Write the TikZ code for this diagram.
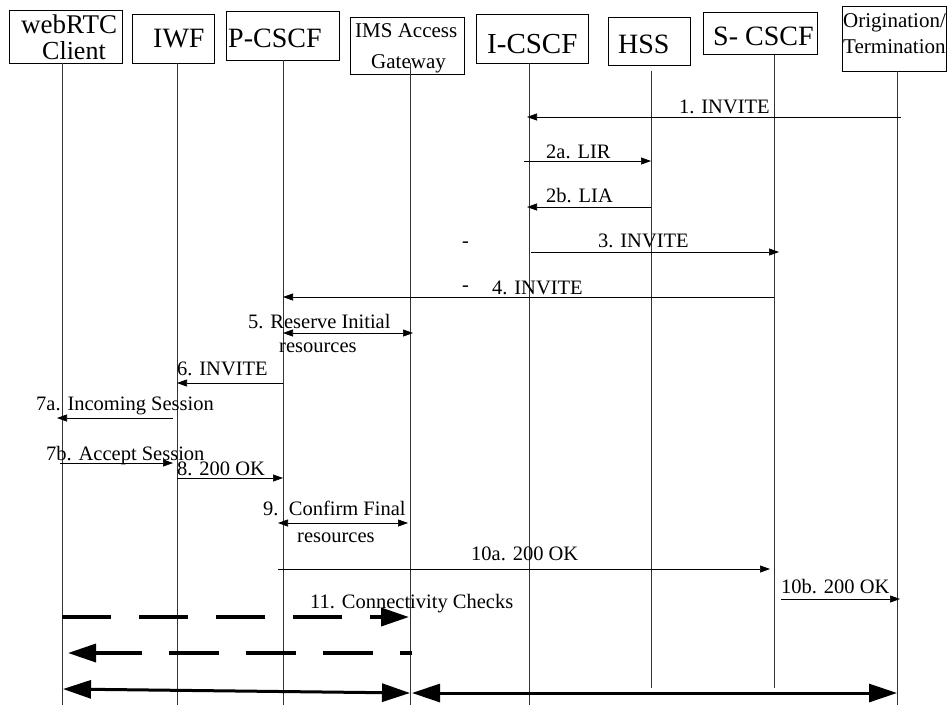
\documentclass[tikz,border=0pt]{standalone}
\usepackage{fontspec}
\setmainfont{Liberation Serif}
\usetikzlibrary{arrows.meta}
\begin{document}
\begin{tikzpicture}[x=1pt,y=-1pt,
  box/.style={draw, line width=0.8pt, inner sep=0pt},
  life/.style={line width=0.7pt, black!80},
  msg/.style={line width=0.7pt, -{Triangle[length=10pt,width=7pt]}},
  dmsg/.style={line width=0.7pt, {Triangle[length=10pt,width=7pt]}-{Triangle[length=10pt,width=7pt]}},
  lbl/.style={anchor=base west, inner sep=0pt, font=\fontsize{20.5}{24}\selectfont},
  hdr/.style={anchor=base west, inner sep=0pt, font=\fontsize{28}{28}\selectfont},
  hdrs/.style={anchor=base west, inner sep=0pt, font=\fontsize{21}{24}\selectfont},
]
\useasboundingbox (0,0) rectangle (947,705);
% header boxes
\draw[box] (9,10) rectangle (122,63);
\draw[box] (132,14) rectangle (214,63);
\draw[box] (226,11) rectangle (339,60);
\draw[box] (350,17) rectangle (464,74);
\draw[box] (476,14) rectangle (588,63);
\draw[box] (608,17) rectangle (690,65);
\draw[box] (703,12) rectangle (817,54);
\draw[box] (842,6) rectangle (946,71);
% header texts
\node[hdr, font=\fontsize{27}{27}\selectfont] (h1a) at (21,33) {webRTC};
\node[hdr, font=\fontsize{26}{26}\selectfont] (h1b) at (42,59) {Client};
\node[hdr] (h2) at (153,47) {IWF};
\node[hdr] (h3) at (228,47) {P-CSCF};
\node[hdrs] (h4a) at (355,37) {IMS Access};
\node[hdrs] (h4b) at (371,68) {Gateway};
\node[hdr, font=\fontsize{29}{29}\selectfont] (h5) at (487,53) {I-CSCF};
\node[hdr] (h6) at (618,53) {HSS};
\node[hdr] (h7) at (713,45) {S- CSCF};
\node[hdrs] (h8a) at (843,27) {Origination/};
\node[hdrs] (h8b) at (843,53) {Termination};
% lifelines
\draw[life] (62,63) -- (62,705);
\draw[life] (177,63) -- (177,705);
\draw[life] (283,60) -- (283,705);
\draw[life] (410,63) -- (410,705);
\draw[life] (529,63) -- (529,705);
\draw[life] (651,71) -- (651,688);
\draw[life] (774,55) -- (774,688);
\draw[life] (897,71) -- (897,705);
% messages
\node[lbl] (m1) at (679,113) {1. INVITE};
\draw[msg] (901,117) -- (527,117);
\node[lbl] (m2a) at (546,158) {2a. LIR};
\draw[msg] (524,161) -- (651,161);
\node[lbl] (m2b) at (546,202) {2b. LIA};
\draw[msg] (651,207) -- (527,207);
\node[lbl] (m3) at (598,247) {3. INVITE};
\node[lbl] (d1) at (462,247) {-};
\draw[msg] (531,252) -- (779,252);
\node[lbl] (m4) at (492,294) {4. INVITE};
\node[lbl] (d2) at (462,291) {-};
\draw[msg] (774,297) -- (283,297);
\node[lbl] (m5a) at (248,328) {5. Reserve Initial};
\node[lbl] (m5b) at (279,352) {resources};
\draw[dmsg] (283,333) -- (413,333);
\node[lbl] (m6) at (177,375) {6. INVITE};
\draw[msg] (283,383) -- (177,383);
\node[lbl] (m7a) at (36,410) {7a. Incoming Session};
\draw[msg] (173,418) -- (57,418);
\node[lbl] (m7b) at (46,460) {7b. Accept Session};
\draw[msg] (60,463) -- (173,463);
\node[lbl] (m8) at (177,475) {8. 200 OK};
\draw[msg] (177,478) -- (283,478);
\node[lbl] (m9a) at (263,515) {9.\ \ Confirm Final};
\node[lbl] (m9b) at (297,542) {resources};
\draw[dmsg] (278,523) -- (408,523);
\node[lbl] (m10a) at (471,560) {10a. 200 OK};
\draw[msg] (278,569) -- (770,569);
\node[lbl] (m10b) at (781,593) {10b. 200 OK};
\draw[msg] (781,599) -- (900,599);
\node[lbl] (m11) at (310,608) {11. Connectivity Checks};
\draw[line width=3.8pt, dash pattern=on 49pt off 28pt, -{Triangle[length=28pt,width=18pt]}] (62,617) -- (409,617);
\draw[line width=3.5pt, dash pattern=on 50pt off 27pt, dash phase=38pt, -{Triangle[length=28pt,width=18pt]}] (412,653) -- (68,653);
\draw[line width=3pt, {Triangle[length=28pt,width=18pt]}-{Triangle[length=28pt,width=18pt]}] (63,689) -- (410,693);
\draw[line width=3pt, {Triangle[length=28pt,width=18pt]}-{Triangle[length=28pt,width=18pt]}] (412,693) -- (897,693);
\end{tikzpicture}
\end{document}
